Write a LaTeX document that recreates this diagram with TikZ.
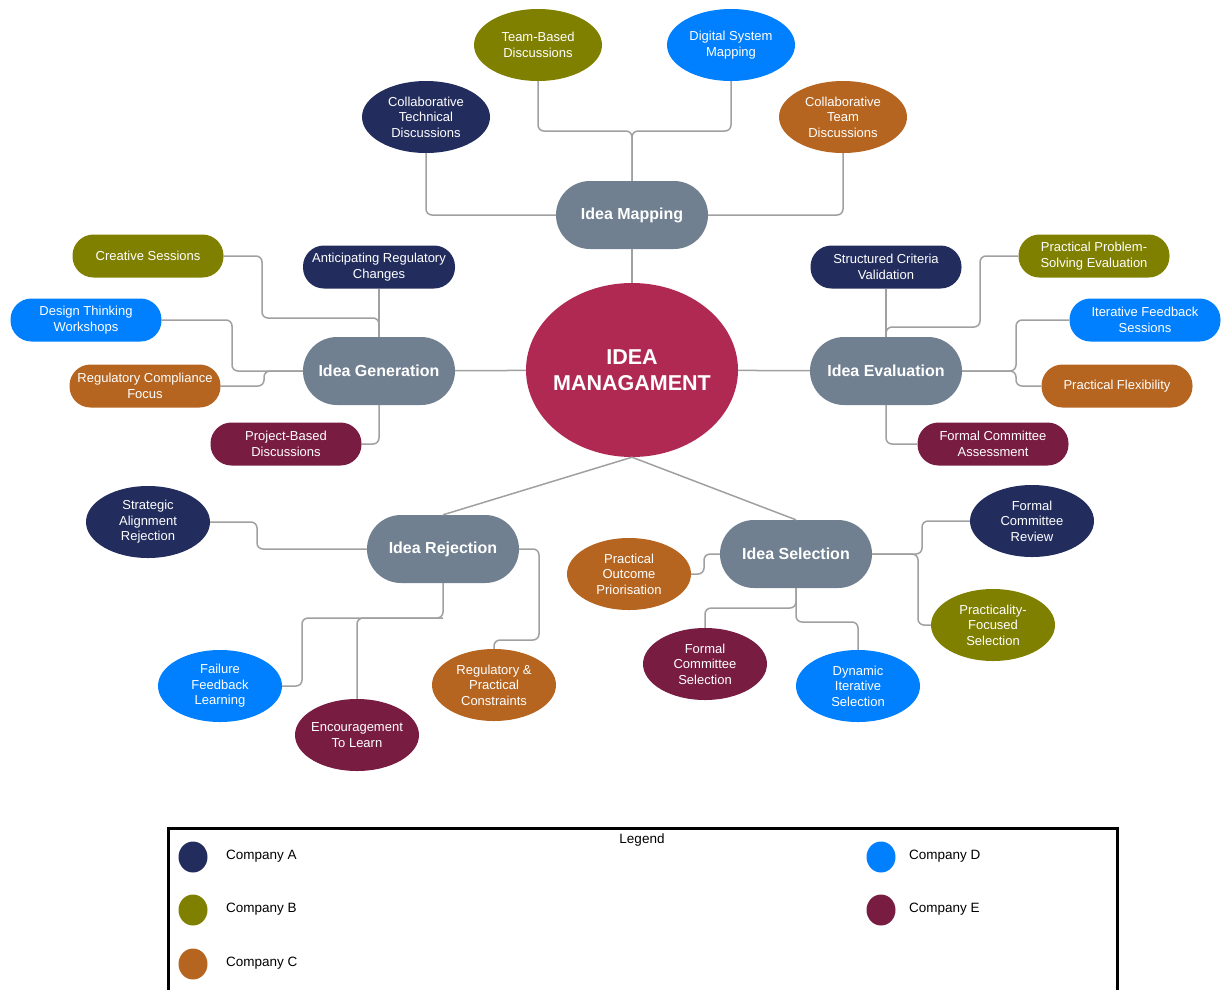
\documentclass[tikz,border=0pt]{standalone}
\usepackage{fontspec}
\setmainfont{Liberation Sans}
\usepackage{tikz}
\usetikzlibrary{shapes.geometric}
\definecolor{compA}{RGB}{34,45,94}
\definecolor{compB}{RGB}{128,128,0}
\definecolor{compC}{RGB}{181,101,32}
\definecolor{compD}{RGB}{0,128,255}
\definecolor{compE}{RGB}{120,28,66}
\definecolor{slate}{RGB}{112,128,144}
\definecolor{hubred}{RGB}{176,41,82}
\definecolor{linkgray}{RGB}{160,160,160}

\begin{document}
\begin{tikzpicture}[x=1pt,y=-1pt,
  hub/.style={ellipse,fill=hubred,text=white,minimum width=212pt,minimum height=174pt,inner sep=0pt,inner xsep=-5pt,align=center,font=\fontsize{21.5}{26}\selectfont\bfseries},
  branch/.style={fill=slate,text=white,rounded corners=34pt,minimum width=152pt,minimum height=68pt,inner sep=0pt,font=\fontsize{16}{19}\selectfont\bfseries},
  pill/.style={fill=#1,text=white,rounded corners=21pt,minimum width=151pt,minimum height=43pt,inner sep=0pt,align=center,font=\fontsize{13}{15.5}\selectfont},
  oval/.style={ellipse,fill=#1,text=white,minimum width=124pt,minimum height=72pt,inner sep=0pt,inner xsep=-3pt,align=center,font=\fontsize{13}{15.5}\selectfont},
  link/.style={draw=linkgray,line width=1.5pt,rounded corners=6pt},
  dot/.style={ellipse,fill=#1,minimum width=29pt,minimum height=31pt,inner sep=0pt},
  legtext/.style={anchor=west,inner sep=0pt,font=\fontsize{13.5}{16}\selectfont}]
\useasboundingbox (0,0) rectangle (1221,989);

\node[hub] (hub) at (632,370) {IDEA\\MANAGAMENT};
\node[branch] (map) at (632,215) {Idea Mapping};
\node[branch] (gen) at (379,371) {Idea Generation};
\node[branch] (eval) at (886,371) {Idea Evaluation};
\node[branch] (rej) at (443,549) {Idea Rejection};
\node[branch] (sel) at (796,554) {Idea Selection};

\node[oval=compA,minimum width=128pt] (ctd) at (426,117) {Collaborative\\Technical\\Discussions};
\node[oval=compB,minimum width=128pt] (tbd) at (538,45) {Team-Based\\Discussions};
\node[oval=compD,minimum width=128pt] (dsm) at (731,45) {Digital System\\Mapping};
\node[oval=compC,minimum width=128pt] (ctm) at (843,117) {Collaborative\\Team\\Discussions};

\node[pill=compB] (cs) at (148,256) {Creative Sessions};
\node[pill=compA,minimum width=152pt] (arc) at (379,267) {Anticipating Regulatory\\Changes};
\node[pill=compD] (dtw) at (86,320) {Design Thinking\\Workshops};
\node[pill=compC] (rcf) at (145,386) {Regulatory Compliance\\Focus};
\node[pill=compE] (pbd) at (286,444) {Project-Based\\Discussions};

\node[pill=compA] (scv) at (886,267) {Structured Criteria\\Validation};
\node[pill=compB] (pps) at (1094,256) {Practical Problem-\\Solving Evaluation};
\node[pill=compD] (ifs) at (1145,320) {Iterative Feedback\\Sessions};
\node[pill=compC] (pfx) at (1117,386) {Practical Flexibility};
\node[pill=compE] (fca) at (993,444) {Formal Committee\\Assessment};

\node[oval=compA] (sar) at (148,522) {Strategic\\Alignment\\Rejection};
\node[oval=compD] (ffl) at (220,686) {Failure\\Feedback\\Learning};
\node[oval=compE] (etl) at (357,735) {Encouragement\\To Learn};
\node[oval=compC] (rpc) at (494,685) {Regulatory \&\\Practical\\Constraints};

\node[oval=compC] (pop) at (629,574) {Practical\\Outcome\\Priorisation};
\node[oval=compA] (fcr) at (1032,521) {Formal\\Committee\\Review};
\node[oval=compB] (pfs) at (993,625) {Practicality-\\Focused\\Selection};
\node[oval=compE] (fcs) at (705,664) {Formal\\Committee\\Selection};
\node[oval=compD] (dis) at (858,686) {Dynamic\\Iterative\\Selection};

\draw[link] (map) -- (hub);
\draw[link] (gen) -- (hub);
\draw[link] (eval) -- (hub);
\draw[link] (hub.south) -- (rej.north);
\draw[link] (hub.south) -- (sel.north);

\draw[link] (map.north) -- (632,131) -| (tbd.south);
\draw[link] (map.north) -- (632,131) -| (dsm.south);
\draw[link] (ctd.south) |- (map.west);
\draw[link] (map.east) -| (ctm.south);

\draw[link] (arc.south) -- (gen.north);
\draw[link] (cs.east) -| (262,318) -| (gen.north);
\draw[link] (dtw.east) -| (232,371) -- (gen.west);
\draw[link] (rcf.east) -| (264,371) -- (gen.west);
\draw[link] (pbd.east) -| (gen.south);

\draw[link] (scv.south) -- (eval.north);
\draw[link] (pps.west) -| (980,327) -| (eval.north);
\draw[link] (ifs.west) -| (1016,371) -- (eval.east);
\draw[link] (pfx.west) -| (1016,371) -- (eval.east);
\draw[link] (fca.west) -| (eval.south);

\draw[link] (sar.east) -| (257,549) -- (rej.west);
\draw[link] (ffl.east) -| (302,618) -| (rej.south);
\draw[link] (etl.north) |- (443,618);
\draw[link] (rej.east) -| (539,640) -| (rpc.north);

\draw[link] (pop.east) -| (704,554) -- (sel.west);
\draw[link] (fcr.west) -| (922,554) -- (sel.east);
\draw[link] (pfs.west) -| (918,554) -- (sel.east);
\draw[link] (sel.south) -- (796,608) -| (fcs.north);
\draw[link] (sel.south) -- (796,622) -| (dis.north);

\draw[line width=3pt] (168,828) rectangle (1117,1000);
\node[font=\fontsize{13.5}{16}\selectfont] (leg) at (642,840) {Legend};
\node[dot=compA] (lgA) at (193,857) {};
\node[dot=compB] (lgB) at (193,910) {};
\node[dot=compC] (lgC) at (193,964) {};
\node[dot=compD] (lgD) at (881,857) {};
\node[dot=compE] (lgE) at (881,910) {};
\node[legtext] (txA) at (226,856) {Company A};
\node[legtext] (txB) at (226,909) {Company B};
\node[legtext] (txC) at (226,963) {Company C};
\node[legtext] (txD) at (909,856) {Company D};
\node[legtext] (txE) at (909,909) {Company E};
\end{tikzpicture}
\end{document}
